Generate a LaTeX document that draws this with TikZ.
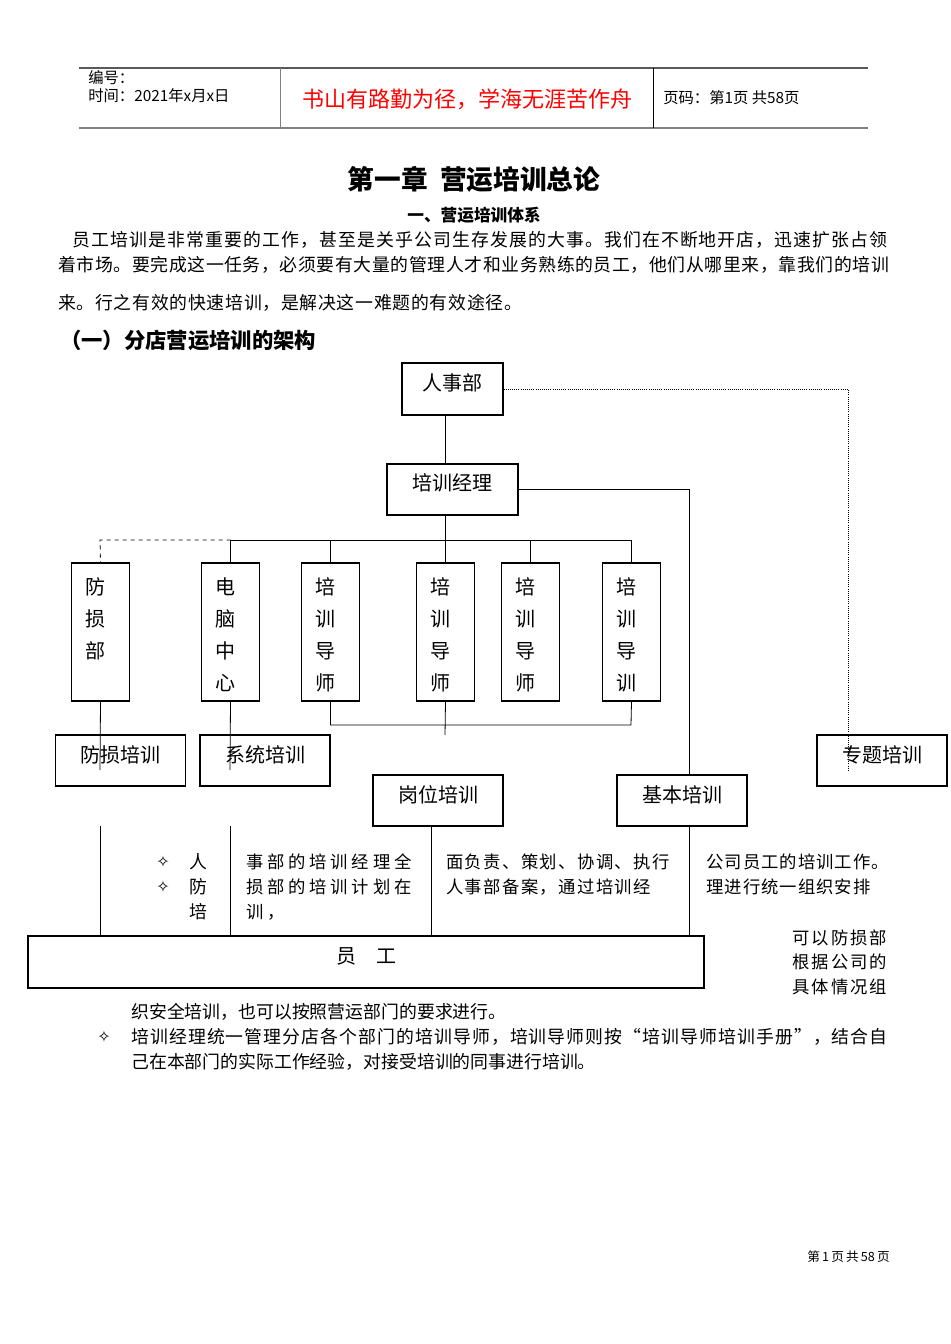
\documentclass[tikz,border=0pt]{standalone}
\usepackage{fontspec}
\setmainfont{Noto Sans CJK SC}
\newfontfamily\dejavu{DejaVu Sans}
\begin{document}
\begin{tikzpicture}[x=0.75pt,y=-0.75pt,
  t/.style={anchor=west,inner sep=0pt,font=\fontsize{13.4}{14}\selectfont},
  bt/.style={font=\fontsize{15}{18}\selectfont},
  vbox/.style={draw,thick,minimum width=44pt,minimum height=103.5pt,inner sep=0pt},
  ln/.style={line width=0.6pt}]
\useasboundingbox (0,0) rectangle (950,1344);
% header
\draw[line width=1pt,gray!70!black] (79,68) -- (868,68);
\draw[line width=1.4pt,gray] (79,128) -- (868,128);
\draw[gray] (280,68) -- (280,128);
\draw (653,68) -- (653,128);
\node[t,font=\fontsize{11.5}{12}\selectfont] (h1) at (88,78) {编号：};
\node[t,font=\fontsize{11.5}{12}\selectfont] (h2) at (88,96) {时间：2021年x月x日};
\node[inner sep=0pt,text=red,font=\fontsize{16.5}{18}\selectfont] (h3) at (467,99) {书山有路勤为径，学海无涯苦作舟};
\node[t,font=\fontsize{11.5}{12}\selectfont] (h4) at (663,98) {页码：第1页 共58页};
% titles
\node[inner sep=0pt,font=\fontsize{20}{24}\selectfont\bfseries] (ti) at (474,179) {第一章\ \ 营运培训总论};
\node[inner sep=0pt,font=\fontsize{12.5}{14}\selectfont\bfseries] (st) at (474,215) {一、营运培训体系};
\node[t,font=\fontsize{13.4}{14}\selectfont\addfontfeature{LetterSpace=6.3}] (p1) at (72,240) {员工培训是非常重要的工作，甚至是关乎公司生存发展的大事。我们在不断地开店，迅速扩张占领};
\node[t,font=\fontsize{13.4}{14}\selectfont\addfontfeature{LetterSpace=3.4}] (p2) at (58,265) {着市场。要完成这一任务，必须要有大量的管理人才和业务熟练的员工，他们从哪里来，靠我们的培训};
\node[t,font=\fontsize{13.4}{14}\selectfont\addfontfeature{LetterSpace=4}] (p3) at (58,303) {来。行之有效的快速培训，是解决这一难题的有效途径。};
\node[t,font=\fontsize{16}{18}\selectfont\bfseries] (sec) at (60,340) {（一）分店营运培训的架构};
% boxes
\node[draw,thick,minimum width=75.75pt,minimum height=39pt,inner sep=0pt] (rsb) at (452.5,389) {};
\node[bt] at (452.5,383) {人事部};
\node[draw,thick,minimum width=98.25pt,minimum height=38.25pt,inner sep=0pt] (jl) at (452.5,489.5) {};
\node[bt] at (452.5,483) {培训经理};
\foreach \n/\x/\s in {v1/100.5/{防\\损\\部},v2/230.5/{电\\脑\\中\\心},v3/330.5/{培\\训\\导\\师},v4/445.5/{培\\训\\导\\师},v5/530.5/{培\\训\\导\\师},v6/631.5/{培\\训\\导\\训}}{
  \node[vbox] (\n) at (\x,632) {};
  \node[bt,anchor=north,align=center,font=\fontsize{15}{24}\selectfont] at (\x-5,573) {\s};
}
\foreach \n/\x/\y/\s in {fs/120.5/760.5/防损培训,xt/265/760.5/系统培训,gw/438/800.5/岗位培训,jb/682/800.5/基本培训,zt/882/760.5/专题培训}{
  \node[draw,thick,minimum width=97.5pt,minimum height=38.25pt,inner sep=0pt] (\n) at (\x,\y) {};
  \node[bt] at (\x,\y-6) {\s};
}
\node[draw,thick,minimum width=507pt,minimum height=39pt,inner sep=0pt] (yg) at (366,962) {};
\node[bt] at (366,956) {员\quad 工};
% connectors
\draw[ln] (rsb.south -| 445,0) -- (jl.north -| 445,0);
\coordinate (br) at (445,540);
\draw[ln] (jl.south -| br) -- (br);
\draw[ln] (v2.north) |- (v6.north |- br) -- (v6.north);
\foreach \n in {v3,v4,v5} \draw[ln] (\n.north) -- (\n.north |- br);
\draw[ln,dashed] (v2.north |- br) -- (100,540) -- (v1.north);
\draw[ln] (v3.south) |- (631,725) -- (v6.south);
\draw[ln] (v4.south) -- (445,735);
\draw[ln] (v1.south) -- (100,770);
\draw[ln] (v2.south) -- (230,770);
\draw[ln] (jl.east) -| (689,775);
\draw[ln,densely dotted] (rsb.east) -| (848,770);
\draw[ln] (100,826) -- (100,936);
\draw[ln] (230,826) -- (230,936);
\draw[ln] (431,826) -- (431,936);
\draw[ln] (689,826) -- (689,936);
% column texts
\node[inner sep=0pt,font=\dejavu\fontsize{12}{14}\selectfont] (d1) at (163,862) {✧};
\node[inner sep=0pt,font=\dejavu\fontsize{12}{14}\selectfont] (d2) at (163,887) {✧};
\node[t] at (189,862) {人};
\node[t] at (189,887) {防};
\node[t] at (189,912) {培};
\node[t,font=\fontsize{13}{14}\selectfont\addfontfeature{LetterSpace=22}] at (246,862) {事部的培训经理全};
\node[t,font=\fontsize{13}{14}\selectfont\addfontfeature{LetterSpace=22}] at (246,887) {损部的培训计划在};
\node[t,font=\fontsize{13}{14}\selectfont\addfontfeature{LetterSpace=22}] at (246,912) {训，};
\node[t,font=\fontsize{13}{14}\selectfont\addfontfeature{LetterSpace=8}] at (446,862) {面负责、策划、协调、执行};
\node[t,font=\fontsize{13}{14}\selectfont\addfontfeature{LetterSpace=8}] at (446,887) {人事部备案，通过培训经};
\node[t,font=\fontsize{13}{14}\selectfont\addfontfeature{LetterSpace=6}] at (706,862) {公司员工的培训工作。};
\node[t,font=\fontsize{13}{14}\selectfont\addfontfeature{LetterSpace=6}] at (706,887) {理进行统一组织安排};
\node[t,font=\fontsize{13}{14}\selectfont\addfontfeature{LetterSpace=12}] at (792,938) {可以防损部};
\node[t,font=\fontsize{13}{14}\selectfont\addfontfeature{LetterSpace=12}] at (792,962) {根据公司的};
\node[t,font=\fontsize{13}{14}\selectfont\addfontfeature{LetterSpace=12}] at (792,987) {具体情况组};
\node[t] at (131,1012) {织安全培训，也可以按照营运部门的要求进行。};
\node[inner sep=0pt,font=\dejavu\fontsize{12}{14}\selectfont] at (104,1037) {✧};
\node[t,font=\fontsize{13.4}{14}\selectfont\addfontfeature{LetterSpace=6}] at (131,1037) {培训经理统一管理分店各个部门的培训导师，培训导师则按“培训导师培训手册”，结合自};
\node[t] at (131,1062) {己在本部门的实际工作经验，对接受培训的同事进行培训。};
\node[anchor=east,inner sep=0pt,font=\fontsize{9.5}{11}\selectfont] at (890,1257) {第\,1\,页\,共\,58\,页};
\end{tikzpicture}
\end{document}
